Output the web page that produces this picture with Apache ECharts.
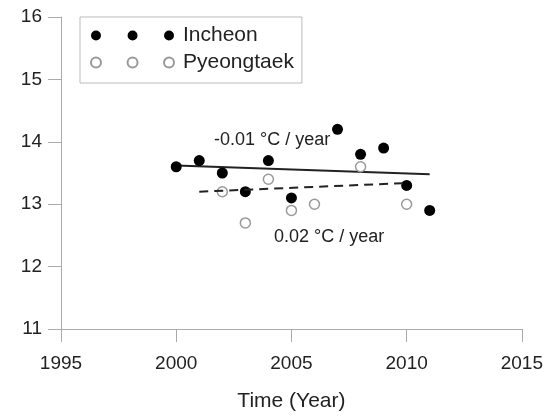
<!DOCTYPE html>
<html>
<head>
<meta charset="utf-8">
<script src="https://cdn.jsdelivr.net/npm/echarts@6/dist/echarts.min.js"></script>
<style>html,body{margin:0;padding:0;background:#fff;}#c{width:546px;height:417px;}</style>
</head>
<body>
<div id="c"></div>
<script>
// Data
var incheonYears = [2000, 2001, 2002, 2003, 2004, 2005, 2007, 2008, 2009, 2010, 2011];
var incheonTemps = [13.6, 13.7, 13.5, 13.2, 13.7, 13.1, 14.2, 13.8, 13.9, 13.3, 12.9];
var pyeongtaekYears = [2002, 2003, 2004, 2005, 2006, 2008, 2010];
var pyeongtaekTemps = [13.2, 12.7, 13.4, 12.9, 13.0, 13.6, 13.0];
var incheonTrendYears = [2000, 2011];
var incheonTrendTemps = [13.62, 13.48];
var pyeongtaekTrendYears = [2001, 2010];
var pyeongtaekTrendTemps = [13.2, 13.34];
var xTicks = [1995, 2000, 2005, 2010, 2015];
var yTicks = [11, 12, 13, 14, 15, 16];
var seriesNames = ['Incheon', 'Pyeongtaek'];
var trendLabels = ['-0.01 \u00B0C / year', '0.02 \u00B0C / year'];

function pairs(xs, ys) { return xs.map(function (x, i) { return [x, ys[i]]; }); }

var threeDots = 'path://M0,5A5,5 0 1,1 10,5A5,5 0 1,1 0,5Z M36.7,5A5,5 0 1,1 46.7,5A5,5 0 1,1 36.7,5Z M73.3,5A5,5 0 1,1 83.3,5A5,5 0 1,1 73.3,5Z';

var font = 'Liberation Sans, Arial, sans-serif';
var chart = echarts.init(document.getElementById('c'));
chart.setOption({
  animation: false,
  backgroundColor: '#fff',
  grid: { left: 61, right: 19, top: 17, bottom: 88, containLabel: false },
  xAxis: {
    type: 'value', min: xTicks[0], max: xTicks[xTicks.length - 1], interval: 5,
    name: 'Time (Year)', nameLocation: 'middle', nameGap: 62,
    nameTextStyle: { fontFamily: font, fontSize: 21, color: '#222' },
    axisLine: { show: true, lineStyle: { color: '#aaa', width: 1 } },
    axisTick: { show: true, length: 13, lineStyle: { color: '#aaa' } },
    axisLabel: { margin: 25, fontFamily: font, fontSize: 19, color: '#222',
      formatter: function (v) { return String(v); } },
    splitLine: { show: false }
  },
  yAxis: {
    type: 'value', min: yTicks[0], max: yTicks[yTicks.length - 1], interval: 1,
    axisLine: { show: true, lineStyle: { color: '#aaa', width: 1 } },
    axisTick: { show: true, length: 13, lineStyle: { color: '#aaa' } },
    axisLabel: { margin: 19, fontFamily: font, fontSize: 19, color: '#222' },
    splitLine: { show: false }
  },
  legend: {
    orient: 'vertical', left: 80, top: 17,
    padding: [8, 8, 10, 10], itemGap: 6,
    itemWidth: 83, itemHeight: 10,
    borderColor: '#bbb', borderWidth: 1,
    textStyle: { fontFamily: font, fontSize: 21, color: '#222', padding: [0, 0, 0, 4] },
    data: [
      { name: seriesNames[0], icon: threeDots },
      { name: seriesNames[1], icon: threeDots }
    ]
  },
  series: [
    {
      name: seriesNames[0], type: 'scatter', symbol: 'circle', symbolSize: 11, z: 5,
      itemStyle: { color: '#000', opacity: 1 },
      data: pairs(incheonYears, incheonTemps)
    },
    {
      name: seriesNames[1], type: 'scatter', symbol: 'circle', symbolSize: 10, z: 4,
      itemStyle: { color: '#fff', borderColor: '#999', borderWidth: 1.5, opacity: 1 },
      data: pairs(pyeongtaekYears, pyeongtaekTemps)
    },
    {
      name: 'IncheonTrend', type: 'line', symbol: 'none', z: 3,
      lineStyle: { color: '#222', width: 2 },
      data: pairs(incheonTrendYears, incheonTrendTemps)
    },
    {
      name: 'PyeongtaekTrend', type: 'line', symbol: 'none', z: 6,
      lineStyle: { color: '#222', width: 2, type: [9, 6] },
      data: pairs(pyeongtaekTrendYears, pyeongtaekTrendTemps)
    }
  ],
  graphic: [
    { type: 'text', left: 214, top: 131, style: { text: trendLabels[0], font: '18px ' + font, fill: '#222' } },
    { type: 'text', left: 274, top: 228, style: { text: trendLabels[1], font: '18px ' + font, fill: '#222' } }
  ]
});
</script>
</body>
</html>
